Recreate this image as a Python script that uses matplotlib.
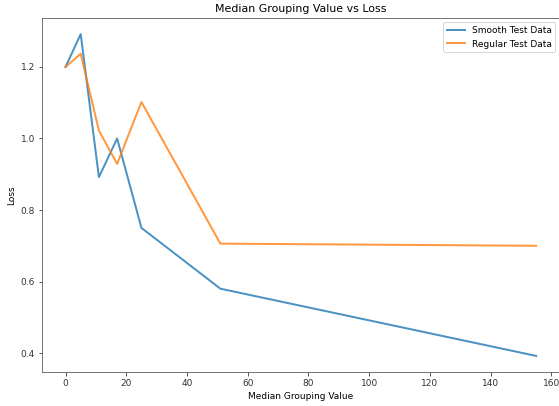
import matplotlib
matplotlib.use('Agg')
import matplotlib.pyplot as plt

grouping = [0, 5, 11, 17, 25, 51, 155]
smooth_loss = [1.2, 1.292, 0.892, 1.0, 0.75, 0.58, 0.392]
regular_loss = [1.2, 1.237, 1.022, 0.929, 1.102, 0.706, 0.700]

fig = plt.figure(figsize=(559 / 72, 406 / 72), dpi=72)
ax = fig.add_axes([0.0751, 0.0837, 0.9262, 0.872])

ax.plot(grouping, smooth_loss, label='Smooth Test Data', alpha=0.8, linewidth=2)
ax.plot(grouping, regular_loss, label='Regular Test Data', alpha=0.8, linewidth=2)

ax.set_title('Median Grouping Value vs Loss', fontsize=11)
ax.set_xlabel('Median Grouping Value', fontsize=9)
ax.set_ylabel('Loss', fontsize=9)
ax.set_yticks([0.4, 0.6, 0.8, 1.0, 1.2])
ax.tick_params(labelsize=9, colors='#333333')
for s in ax.spines.values():
    s.set_color('#555555')
ax.legend(loc='upper right', fontsize=9)

fig.savefig('out.png', dpi=72)
